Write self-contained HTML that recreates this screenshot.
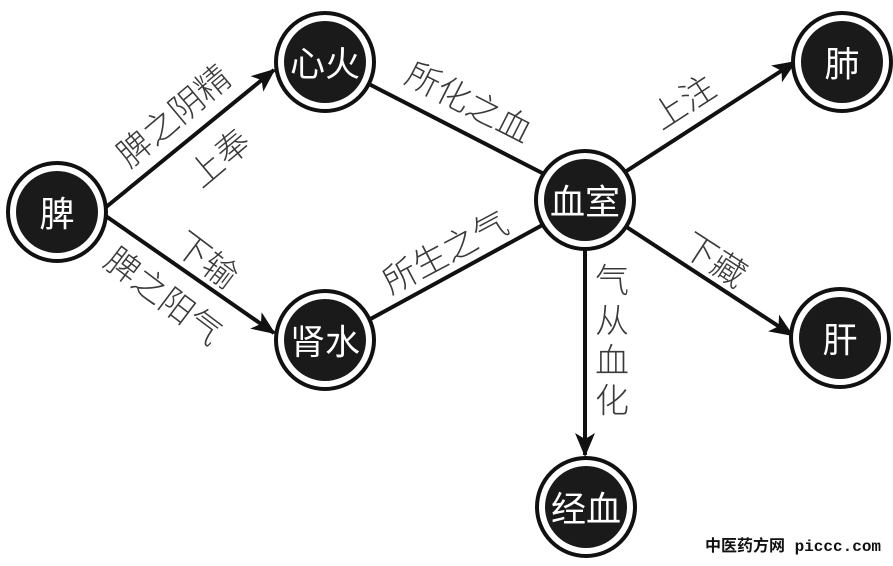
<!DOCTYPE html>
<html><head><meta charset="utf-8"><style>
html,body{margin:0;padding:0;background:#fff;width:893px;height:566px;overflow:hidden}
svg{display:block}
.n{fill:#fff;font-family:"Noto Sans CJK SC",sans-serif;font-size:35px;text-anchor:middle;dominant-baseline:central}
.l{fill:#3a3a3a;font-family:"Noto Sans CJK SC",sans-serif;font-weight:300;font-size:34px;text-anchor:middle;dominant-baseline:central}
</style></head><body>
<svg width="893" height="566" viewBox="0 0 893 566">
<defs>
<marker id="b" viewBox="0 0 24 20" refX="22" refY="10" markerWidth="24" markerHeight="20" orient="auto" markerUnits="userSpaceOnUse"><path d="M0,0 L24,10 L0,20 L6,10z" fill="#111"/></marker></defs>
<g stroke="#111" stroke-width="4" fill="none">
<line x1="100" y1="212" x2="274" y2="70" marker-end="url(#b)"/>
<line x1="100" y1="212" x2="274" y2="333" marker-end="url(#b)"/>
<line x1="365" y1="82" x2="548" y2="176"/>
<line x1="365" y1="322" x2="548" y2="222"/>
<line x1="625" y1="172" x2="795" y2="62" marker-end="url(#b)"/>
<line x1="625" y1="226" x2="792" y2="335" marker-end="url(#b)"/>
<line x1="585" y1="245" x2="585" y2="455" marker-end="url(#b)"/>
</g>
<g>
<circle cx="57" cy="212" r="49" fill="#fff" stroke="#111" stroke-width="4"/><circle cx="57" cy="212" r="41" fill="#1a1a1a"/><text class="n" x="57" y="212">脾</text>
<circle cx="325" cy="62" r="49" fill="#fff" stroke="#111" stroke-width="4"/><circle cx="325" cy="62" r="41" fill="#1a1a1a"/><text class="n" x="325" y="62">心火</text>
<circle cx="325" cy="340" r="49" fill="#fff" stroke="#111" stroke-width="4"/><circle cx="325" cy="340" r="41" fill="#1a1a1a"/><text class="n" x="325" y="340">肾水</text>
<circle cx="585" cy="200" r="49" fill="#fff" stroke="#111" stroke-width="4"/><circle cx="585" cy="200" r="41" fill="#1a1a1a"/><text class="n" x="585" y="200">血室</text>
<circle cx="842" cy="62" r="49" fill="#fff" stroke="#111" stroke-width="4"/><circle cx="842" cy="62" r="41" fill="#1a1a1a"/><text class="n" x="842" y="62">肺</text>
<circle cx="840" cy="338" r="49" fill="#fff" stroke="#111" stroke-width="4"/><circle cx="840" cy="338" r="41" fill="#1a1a1a"/><text class="n" x="840" y="338">肝</text>
<circle cx="586" cy="507" r="49" fill="#fff" stroke="#111" stroke-width="4"/><circle cx="586" cy="507" r="41" fill="#1a1a1a"/><text class="n" x="586" y="507">经血</text>
</g>
<text class="l" transform="translate(172,114) rotate(-40)">脾之阴精</text>
<text class="l" transform="translate(218,156) rotate(-40)">上奉</text>
<text class="l" transform="translate(208,258) rotate(37)">下输</text>
<text class="l" transform="translate(165,294) rotate(37)">脾之阳气</text>
<text class="l" transform="translate(470,100) rotate(27)">所化之血</text>
<text class="l" transform="translate(444,250) rotate(-28)">所生之气</text>
<text class="l" transform="translate(682,100) rotate(-33)">上注</text>
<text class="l" transform="translate(716,258) rotate(33)">下藏</text>
<text class="l" x="612" y="278">气</text>
<text class="l" x="612" y="318">从</text>
<text class="l" x="612" y="358">血</text>
<text class="l" x="612" y="398">化</text>
<text x="705" y="551" font-family="'Liberation Mono','Noto Sans CJK SC',monospace" font-size="16" font-weight="bold" fill="#111">中医药方网 piccc.com</text>
</svg>
</body></html>
